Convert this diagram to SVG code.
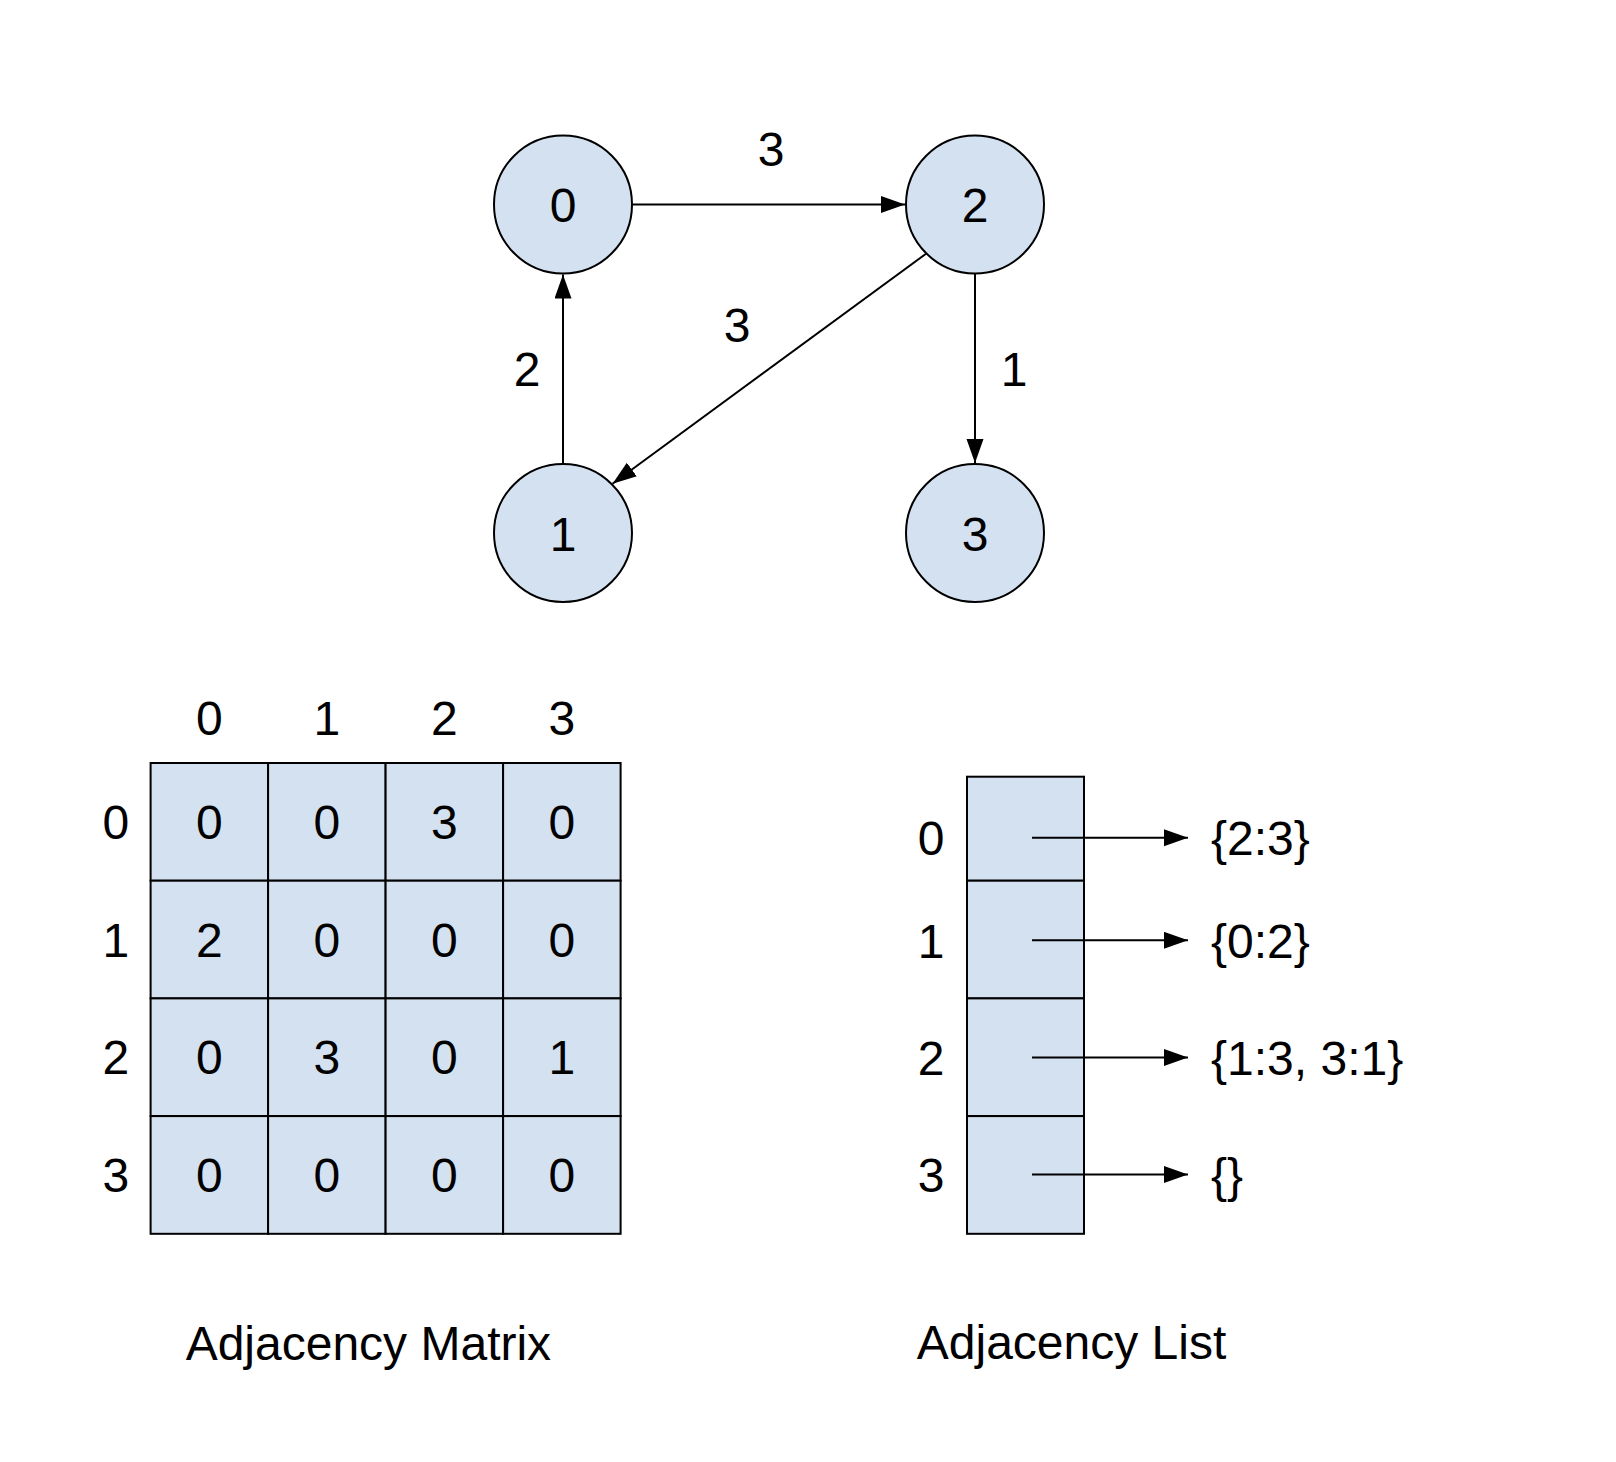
<svg xmlns="http://www.w3.org/2000/svg" width="1616" height="1462" viewBox="0 0 1616 1462">
<style>
.t{font-family:"Liberation Sans",Arial,sans-serif;font-size:48px;fill:#000;text-anchor:middle}
.tl{font-family:"Liberation Sans",Arial,sans-serif;font-size:48px;fill:#000;text-anchor:start}
.node{fill:#d4e1f1;stroke:#000;stroke-width:2}
.cell{fill:#d4e1f1;stroke:#000;stroke-width:2}
.edge{fill:none;stroke:#000;stroke-width:2}
</style>
<defs>
<marker id="arr" markerUnits="userSpaceOnUse" markerWidth="26" markerHeight="18" refX="24" refY="8.5" orient="auto">
<path d="M0,0 L24,8.5 L0,17 z" fill="#000"/>
</marker>
</defs>
<rect width="1616" height="1462" fill="#fff"/>
<g id="node0"><circle class="node" cx="563" cy="204.5" r="69"/><text class="t" x="563" y="222">0</text></g>
<g id="node2"><circle class="node" cx="975" cy="204.5" r="69"/><text class="t" x="975" y="222">2</text></g>
<g id="node1"><circle class="node" cx="563" cy="533" r="69"/><text class="t" x="563" y="551">1</text></g>
<g id="node3"><circle class="node" cx="975" cy="533" r="69"/><text class="t" x="975" y="551">3</text></g>
<g id="edge-labels">
<text class="t" x="771" y="166">3</text>
<text class="t" x="737" y="342">3</text>
<text class="t" x="527" y="386">2</text>
<text class="t" x="1014" y="386">1</text>
</g>
<g id="matrix">
<rect class="cell" x="150.6" y="763" width="117.5" height="117.7"/>
<rect class="cell" x="268.1" y="763" width="117.5" height="117.7"/>
<rect class="cell" x="385.6" y="763" width="117.5" height="117.7"/>
<rect class="cell" x="503.1" y="763" width="117.5" height="117.7"/>
<rect class="cell" x="150.6" y="880.7" width="117.5" height="117.7"/>
<rect class="cell" x="268.1" y="880.7" width="117.5" height="117.7"/>
<rect class="cell" x="385.6" y="880.7" width="117.5" height="117.7"/>
<rect class="cell" x="503.1" y="880.7" width="117.5" height="117.7"/>
<rect class="cell" x="150.6" y="998.4" width="117.5" height="117.7"/>
<rect class="cell" x="268.1" y="998.4" width="117.5" height="117.7"/>
<rect class="cell" x="385.6" y="998.4" width="117.5" height="117.7"/>
<rect class="cell" x="503.1" y="998.4" width="117.5" height="117.7"/>
<rect class="cell" x="150.6" y="1116.1" width="117.5" height="117.7"/>
<rect class="cell" x="268.1" y="1116.1" width="117.5" height="117.7"/>
<rect class="cell" x="385.6" y="1116.1" width="117.5" height="117.7"/>
<rect class="cell" x="503.1" y="1116.1" width="117.5" height="117.7"/>
<text class="t" x="209.4" y="735">0</text>
<text class="t" x="326.9" y="735">1</text>
<text class="t" x="444.4" y="735">2</text>
<text class="t" x="561.9" y="735">3</text>
<text class="t" x="115.8" y="839">0</text>
<text class="t" x="115.8" y="956.5">1</text>
<text class="t" x="115.8" y="1074">2</text>
<text class="t" x="115.8" y="1192">3</text>
<text class="t" x="209.4" y="839">0</text>
<text class="t" x="326.9" y="839">0</text>
<text class="t" x="444.4" y="839">3</text>
<text class="t" x="561.9" y="839">0</text>
<text class="t" x="209.4" y="956.5">2</text>
<text class="t" x="326.9" y="956.5">0</text>
<text class="t" x="444.4" y="956.5">0</text>
<text class="t" x="561.9" y="956.5">0</text>
<text class="t" x="209.4" y="1074">0</text>
<text class="t" x="326.9" y="1074">3</text>
<text class="t" x="444.4" y="1074">0</text>
<text class="t" x="561.9" y="1074">1</text>
<text class="t" x="209.4" y="1192">0</text>
<text class="t" x="326.9" y="1192">0</text>
<text class="t" x="444.4" y="1192">0</text>
<text class="t" x="561.9" y="1192">0</text>
<text class="t" x="368.4" y="1360">Adjacency Matrix</text>
</g>
<g id="adjlist">
<rect class="cell" x="967" y="776.7" width="117" height="104"/>
<rect class="cell" x="967" y="880.7" width="117" height="117.7"/>
<rect class="cell" x="967" y="998.4" width="117" height="117.7"/>
<rect class="cell" x="967" y="1116.1" width="117" height="117.7"/>
<text class="t" x="931" y="855">0</text>
<text class="t" x="931" y="957.5">1</text>
<text class="t" x="931" y="1074.5">2</text>
<text class="t" x="931" y="1191.5">3</text>
<text class="tl" x="1211" y="855">{2:3}</text>
<text class="tl" x="1211" y="957.5">{0:2}</text>
<text class="tl" x="1211" y="1074.5">{1:3, 3:1}</text>
<text class="tl" x="1211" y="1191.5">{}</text>
<text class="t" x="1071.5" y="1359">Adjacency List</text>
</g>
<g id="connectors">
<line class="edge" x1="632" y1="204.5" x2="905" y2="204.5" marker-end="url(#arr)"/>
<line class="edge" x1="563" y1="464" x2="563" y2="274.5" marker-end="url(#arr)"/>
<line class="edge" x1="975" y1="273.5" x2="975" y2="463" marker-end="url(#arr)"/>
<line class="edge" x1="925.7" y1="254" x2="612.5" y2="483.7" marker-end="url(#arr)"/>
<line class="edge" x1="1032" y1="837.7" x2="1188" y2="837.7" marker-end="url(#arr)"/>
<line class="edge" x1="1032" y1="940.3" x2="1188" y2="940.3" marker-end="url(#arr)"/>
<line class="edge" x1="1032" y1="1057.5" x2="1188" y2="1057.5" marker-end="url(#arr)"/>
<line class="edge" x1="1032" y1="1174.5" x2="1188" y2="1174.5" marker-end="url(#arr)"/>
</g>
</svg>
